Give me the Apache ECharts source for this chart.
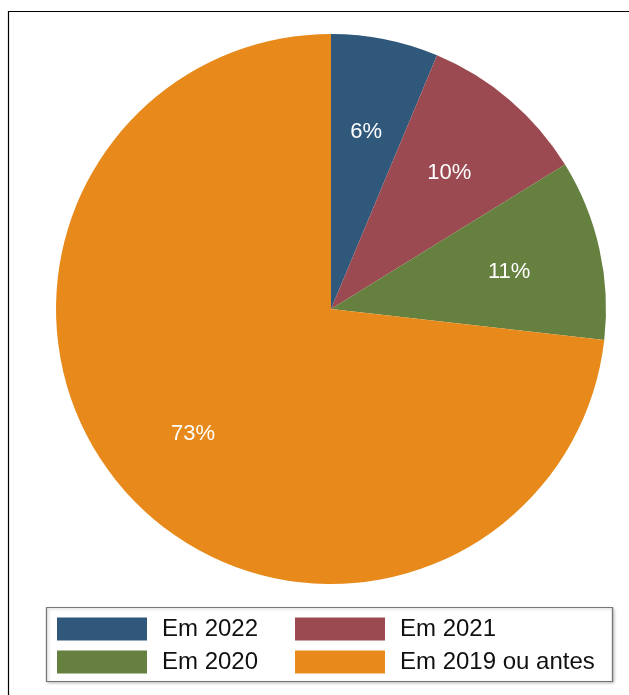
<!DOCTYPE html>
<html>
<head>
<meta charset="utf-8">
<script src="https://cdn.jsdelivr.net/npm/echarts@6/dist/echarts.min.js"></script>
<style>
html,body{margin:0;padding:0;background:#fff;}
#chart{width:629px;height:695px;}
</style>
</head>
<body>
<div id="chart"></div>
<script>
var categories = ['Em 2022', 'Em 2021', 'Em 2020', 'Em 2019 ou antes'];
var values = [6.3, 9.9, 10.6, 73.2];
var colors = ['#2f587b', '#9a4a50', '#66803f', '#e78a1b'];

var data = categories.map(function (c, i) {
  return { name: c, value: values[i], itemStyle: { color: colors[i] } };
});
var labelData = categories.map(function (c, i) {
  return { name: c + ' ', value: values[i] };
});

var chart = echarts.init(document.getElementById('chart'), null, { renderer: 'canvas' });
var font = '"Liberation Sans", Arial, sans-serif';
chart.setOption({
  animation: false,
  backgroundColor: '#ffffff',
  graphic: [
    { type: 'rect', shape: { x: 8.5, y: 11.5, width: 800, height: 800 },
      style: { fill: 'none', stroke: '#000', lineWidth: 1.2 }, z: 0 },
    { type: 'rect', shape: { x: 46.5, y: 607.5, width: 566, height: 74 },
      style: { fill: '#fff', stroke: '#777', lineWidth: 1.2,
               shadowColor: 'rgba(0,0,0,0.25)', shadowBlur: 3, shadowOffsetX: 1, shadowOffsetY: 1 }, z: 1 }
  ],
  legend: [
    { data: ['Em 2022', 'Em 2020'], orient: 'vertical', left: 52, top: 612,
      itemWidth: 90, itemHeight: 23, itemGap: 9, icon: 'rect', selectedMode: false,
      textStyle: { fontFamily: font, fontSize: 24, color: '#111', padding: [0, 0, 0, 10] }, z: 5 },
    { data: ['Em 2021', 'Em 2019 ou antes'], orient: 'vertical', left: 290, top: 612,
      itemWidth: 90, itemHeight: 23, itemGap: 9, icon: 'rect', selectedMode: false,
      textStyle: { fontFamily: font, fontSize: 24, color: '#111', padding: [0, 0, 0, 10] }, z: 5 }
  ],
  series: [
    {
      type: 'pie', center: [331, 309], radius: [0, 275], startAngle: 90, clockwise: true,
      silent: true, label: { show: false }, labelLine: { show: false },
      itemStyle: { borderWidth: 0 }, emphasis: { disabled: true },
      data: data, z: 2
    },
    {
      type: 'pie', center: [331, 309], radius: [86, 275], startAngle: 90, clockwise: true,
      silent: true, legendHoverLink: false,
      itemStyle: { color: 'rgba(0,0,0,0)', borderWidth: 0 }, emphasis: { disabled: true },
      label: { show: true, position: 'inside', fontFamily: font, fontSize: 22, color: '#fff',
               offset: [-1, 3],
               formatter: function (p) { return Math.round(p.value) + '%'; } },
      labelLine: { show: false },
      data: labelData, z: 3
    }
  ]
});
</script>
</body>
</html>
